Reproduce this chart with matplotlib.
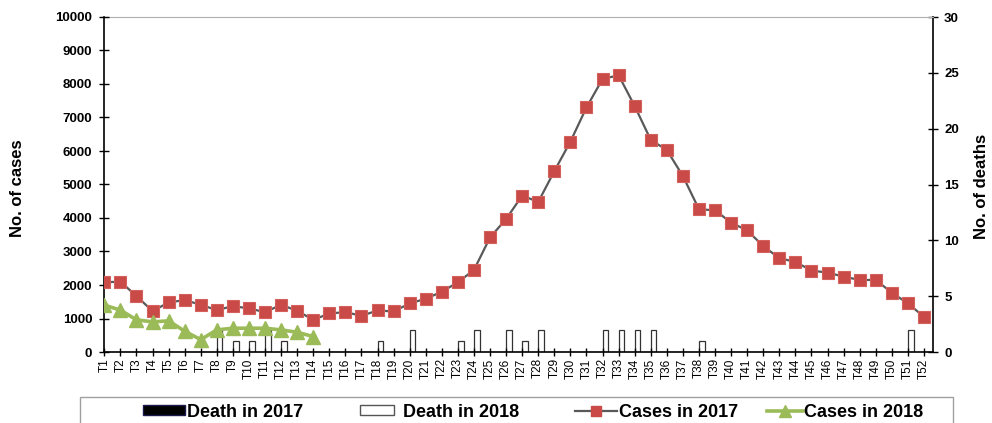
import numpy as np
import matplotlib
matplotlib.use("Agg")
import matplotlib.pyplot as plt
from matplotlib.patches import Patch, Rectangle
from matplotlib.lines import Line2D

plt.rcParams['font.family'] = ['Liberation Sans', 'DejaVu Sans']

weeks = ["T%d" % i for i in range(1, 53)]

cases_2017 = [2080, 2100, 1670, 1220, 1480, 1550, 1410, 1250, 1370, 1300,
              1190, 1410, 1230, 960, 1150, 1190, 1080, 1240, 1210, 1450,
              1590, 1800, 2080, 2450, 3420, 3970, 4670, 4480, 5400, 6280,
              7300, 8150, 8260, 7340, 6330, 6030, 5250, 4260, 4230, 3860,
              3630, 3160, 2800, 2690, 2430, 2370, 2250, 2150, 2150, 1770,
              1450, 1050]
cases_2018 = [1400, 1250, 960, 900, 930, 620, 370, 660, 710, 710,
              710, 660, 590, 460]

death_2017 = [0] * 52
death_2018 = [0, 0, 0, 0, 0, 0, 0, 2, 1, 1,
              2, 1, 0, 0, 0, 0, 0, 1, 0, 2,
              0, 0, 1, 2, 0, 2, 1, 2, 0, 0,
              0, 2, 2, 2, 2, 0, 0, 1, 0, 0,
              0, 0, 0, 0, 0, 0, 0, 0, 0, 0,
              2, 0]

W, H = 992, 423
fig = plt.figure(figsize=(W / 100, H / 100), dpi=100)
ax = fig.add_axes([104 / W, 1 - 352 / H, 829 / W, 335 / H])
ax2 = ax.twinx()

x = np.arange(len(weeks))

# deaths on the right axis
ax2.bar(x - 0.175, death_2017, width=0.35, color='black', edgecolor='#000033', linewidth=0.8)
ax2.bar(x + 0.175, death_2018, width=0.35, color='white', edgecolor='#333333', linewidth=0.9)

# cases on the left axis
ax.plot(x, cases_2017, color='#595959', lw=1.6, marker='s', ms=8,
        mfc='#C94A46', mec='#D4615D', mew=0.8, zorder=3)
ax.plot(x[:len(cases_2018)], cases_2018, color='#9BBB59', lw=2.6, marker='^', ms=10,
        mfc='#9BBB59', mec='#9BBB59', zorder=4)

ax.set_zorder(ax2.get_zorder() + 1)
ax.patch.set_visible(False)

ax.set_xlim(-0.02, 51.56)
ax.set_ylim(0, 10000)
ax2.set_ylim(0, 30)

ax.set_yticks(range(0, 10001, 1000))
ax2.set_yticks(range(0, 31, 5))
ax.set_xticks(x)
ax.set_xticklabels(weeks, rotation=90, fontsize=8.5)

for lab in ax.get_yticklabels() + ax2.get_yticklabels():
    lab.set_fontweight('bold')
    lab.set_fontsize(9.5)

ax.tick_params(axis='y', direction='inout', length=7, width=1, pad=5)
ax.tick_params(axis='x', direction='inout', length=6, width=1, pad=1.5)
ax2.tick_params(axis='y', direction='inout', length=7, width=1, pad=4.5)

for s in ['top', 'right']:
    ax.spines[s].set_visible(False)
for s in ['left', 'bottom']:
    ax2.spines[s].set_visible(False)
ax2.spines['top'].set_color('#b0b0b0')
ax2.spines['top'].set_linewidth(0.8)
ax.spines['left'].set_linewidth(1.2)
ax.spines['bottom'].set_linewidth(1.2)
ax2.spines['right'].set_linewidth(1.2)

fig.text(18 / W, 1 - 188 / H, 'No. of cases', rotation=90, ha='center', va='center',
         fontsize=12, fontweight='bold')
fig.text(982 / W, 1 - 186 / H, 'No. of deaths', rotation=90, ha='center', va='center',
         fontsize=12, fontweight='bold')

# legend box (runs off the bottom of the picture)
fig.add_artist(Rectangle((80 / W, -0.1), (953 - 80) / W, 0.1 + 1 - 397 / H,
                         transform=fig.transFigure, fill=False,
                         edgecolor='#a0a0a0', linewidth=1))

entries = [
    (Patch(facecolor='black', edgecolor='#1a1a4d'), 'Death in 2017', 143, 2.3, 0.12),
    (Patch(facecolor='white', edgecolor='#555555'), 'Death in 2018', 360, 1.9, 0.5),
    (Line2D([], [], color='#595959', lw=1.6, marker='s', ms=7, mfc='#C94A46', mec='#C94A46'),
     'Cases in 2017', 575, 2.3, 0.12),
    (Line2D([], [], color='#9BBB59', lw=2.6, marker='^', ms=8, mfc='#9BBB59', mec='#9BBB59'),
     'Cases in 2018', 767, 2.0, 0.05),
]
for handle, label, px, hl, tp in entries:
    fig.legend(handles=[handle], labels=[label], loc='center left',
               bbox_to_anchor=(px / W, 1 - 412 / H), frameon=False,
               borderpad=0, borderaxespad=0, handlelength=hl, handleheight=0.4,
               handletextpad=tp, prop={'weight': 'bold', 'size': 13})

fig.savefig('out.png', dpi=100)
